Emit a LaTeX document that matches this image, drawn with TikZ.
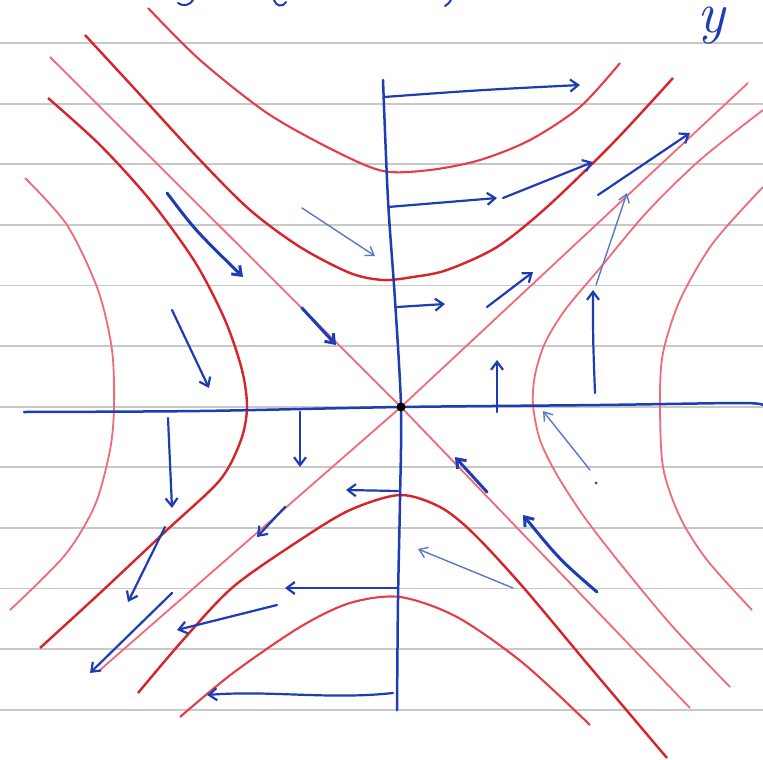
\documentclass[tikz,border=0pt]{standalone}
\usepackage{fontspec}
\usetikzlibrary{arrows.meta}
\definecolor{rdark}{HTML}{D8232A}
\definecolor{rmid}{HTML}{E63C48}
\definecolor{rlight}{HTML}{F06A78}
\definecolor{bl}{HTML}{1E3CB4}
\definecolor{blthin}{HTML}{5A78C8}
\definecolor{paperline}{HTML}{C8C8C8}
\tikzset{
  paper/.style={draw=paperline, line width=1.8pt},
  redD/.style={draw=rdark, line width=2.4pt},
  redM/.style={draw=rmid, line width=2.1pt},
  redL/.style={draw=rlight, line width=1.8pt},
  axisline/.style={draw=bl, line width=2.5pt, line cap=round},
  va/.style={draw=bl, line width=2.2pt, line cap=round, -{Straight Barb[length=8pt,width=12pt]}},
  vathick/.style={va, line width=3pt},
  vathin/.style={draw=blthin, line width=1.4pt, line cap=round, -{Straight Barb[length=8pt,width=11pt]}},
}
\begin{document}
\begin{tikzpicture}[x=1pt,y=-1pt]
\useasboundingbox[fill=white] (0,0) rectangle (763,760);
% paper lines
\foreach \yy in {43,103.6,164.2,224.8,285.4,346,406.6,467.2,527.8,588.4,649,709.6}
  \draw[paper] (0,\yy) -- (763,\yy);
% cut-off handwriting at top
\draw[bl, line width=2pt, line cap=round] (178,3) .. controls (184,7) and (190,5) .. (193,0);
\draw[bl, line width=2pt, line cap=round] (274,0) .. controls (276,6) and (282,8) .. (286,2);
\draw[bl, line width=2pt, line cap=round] (445,6) .. controls (448,4) and (450,2) .. (451,0);
\node[bl, font=\fontsize{58}{58}\selectfont\itshape, anchor=base, inner sep=0pt] (ylabel) at (711,33) {y};
% red curves
\draw[redM] plot[smooth] coordinates {(148,8) (200,60) (267,113) (333,150) (383,171) (430,170) (480,160) (530,140) (580,107) (620,63)};
\draw[redD] plot[smooth] coordinates {(85,35) (133,87) (200,160) (250,210) (300,247) (350,273) (383,280) (413,277) (447,270) (497,247) (547,207) (613,143) (673,78)};
\draw[redL] (50,57) -- (401,407) -- (690,708);
\draw[redL] (748,83) -- (401,407) -- (100,670);
\draw[redD] plot[smooth] coordinates {(48,98) (100,145) (150,200) (195,262) (225,320) (242,370) (247,407) (241,440) (220,480) (167,530) (100,593) (40,648)};
\draw[redL] plot[smooth] coordinates {(25,178) (67,225) (98,290) (112,350) (114,407) (110,450) (95,505) (65,555) (10,610)};
\draw[redL] plot[smooth] coordinates {(763,110) (700,160) (647,212) (600,268) (565,310) (545,343) (535,375) (533,405) (540,440) (557,475) (585,518) (623,567) (673,627) (730,687)};
\draw[redL] plot[smooth] coordinates {(763,187) (713,243) (680,300) (663,353) (660,400) (663,467) (680,517) (707,560) (752,610)};
\draw[redD] plot[smooth] coordinates {(138,693) (183,640) (233,587) (300,540) (350,510) (400,495) (440,507) (473,533) (523,587) (590,667) (667,758)};
\draw[redM] plot[smooth] coordinates {(180,717) (233,673) (300,627) (350,603) (400,597) (457,617) (523,663) (590,725)};
% axes
\draw[axisline] plot[smooth] coordinates {(383,80) (388,200) (395,300) (401,407) (400,500) (398,600) (397,710)};
\draw[axisline] plot[smooth] coordinates {(24,412) (200,411) (401,407) (600,405) (740,403) (763,405)};
\fill[black] (401,407) circle (4.5pt);
% vector arrows, upper right
\draw[va] (384,97) .. controls (480,90) .. (580,85);
\draw[va] (388,207) -- (497,198);
\draw[va] (503,198) -- (593,162);
\draw[va] (397,307) -- (445,304);
\draw[va] (487,307) -- (533,272);
\draw[va] (598,195) -- (690,133);
\draw[va] (497,412) -- (497,360);
\draw[va] (595,393) .. controls (593,340) .. (593,290);
\draw[vathin] (596,285) -- (627,193);
% upper left
\draw[vathick] (167,193) .. controls (195,230) .. (243,277);
\draw[vathin] (302,208) -- (375,256);
\draw[vathick] (302,308) -- (336,345);
\draw[va] (172,310) -- (209,388);
% lower left
\draw[va] (168,418) -- (172,508);
\draw[va] (300,412) -- (300,467);
\draw[va] (398,491) -- (346,490);
\draw[va] (285,507) -- (257,537);
\draw[va] (165,527) -- (128,602);
\draw[va] (398,588) -- (285,588);
\draw[va] (277,605) -- (177,630);
\draw[va] (172,593) -- (90,673);
\draw[va] (393,693) .. controls (330,700) and (270,690) .. (207,695);
% lower right
\draw[vathick] (487,492) -- (455,457);
\draw[vathick] (597,592) .. controls (560,560) .. (523,515);
\draw[vathin] (513,588) -- (418,549);
\draw[vathin] (590,470) -- (543,411);
\fill[bl] (596,483) circle (1.5pt);
\end{tikzpicture}
\end{document}
